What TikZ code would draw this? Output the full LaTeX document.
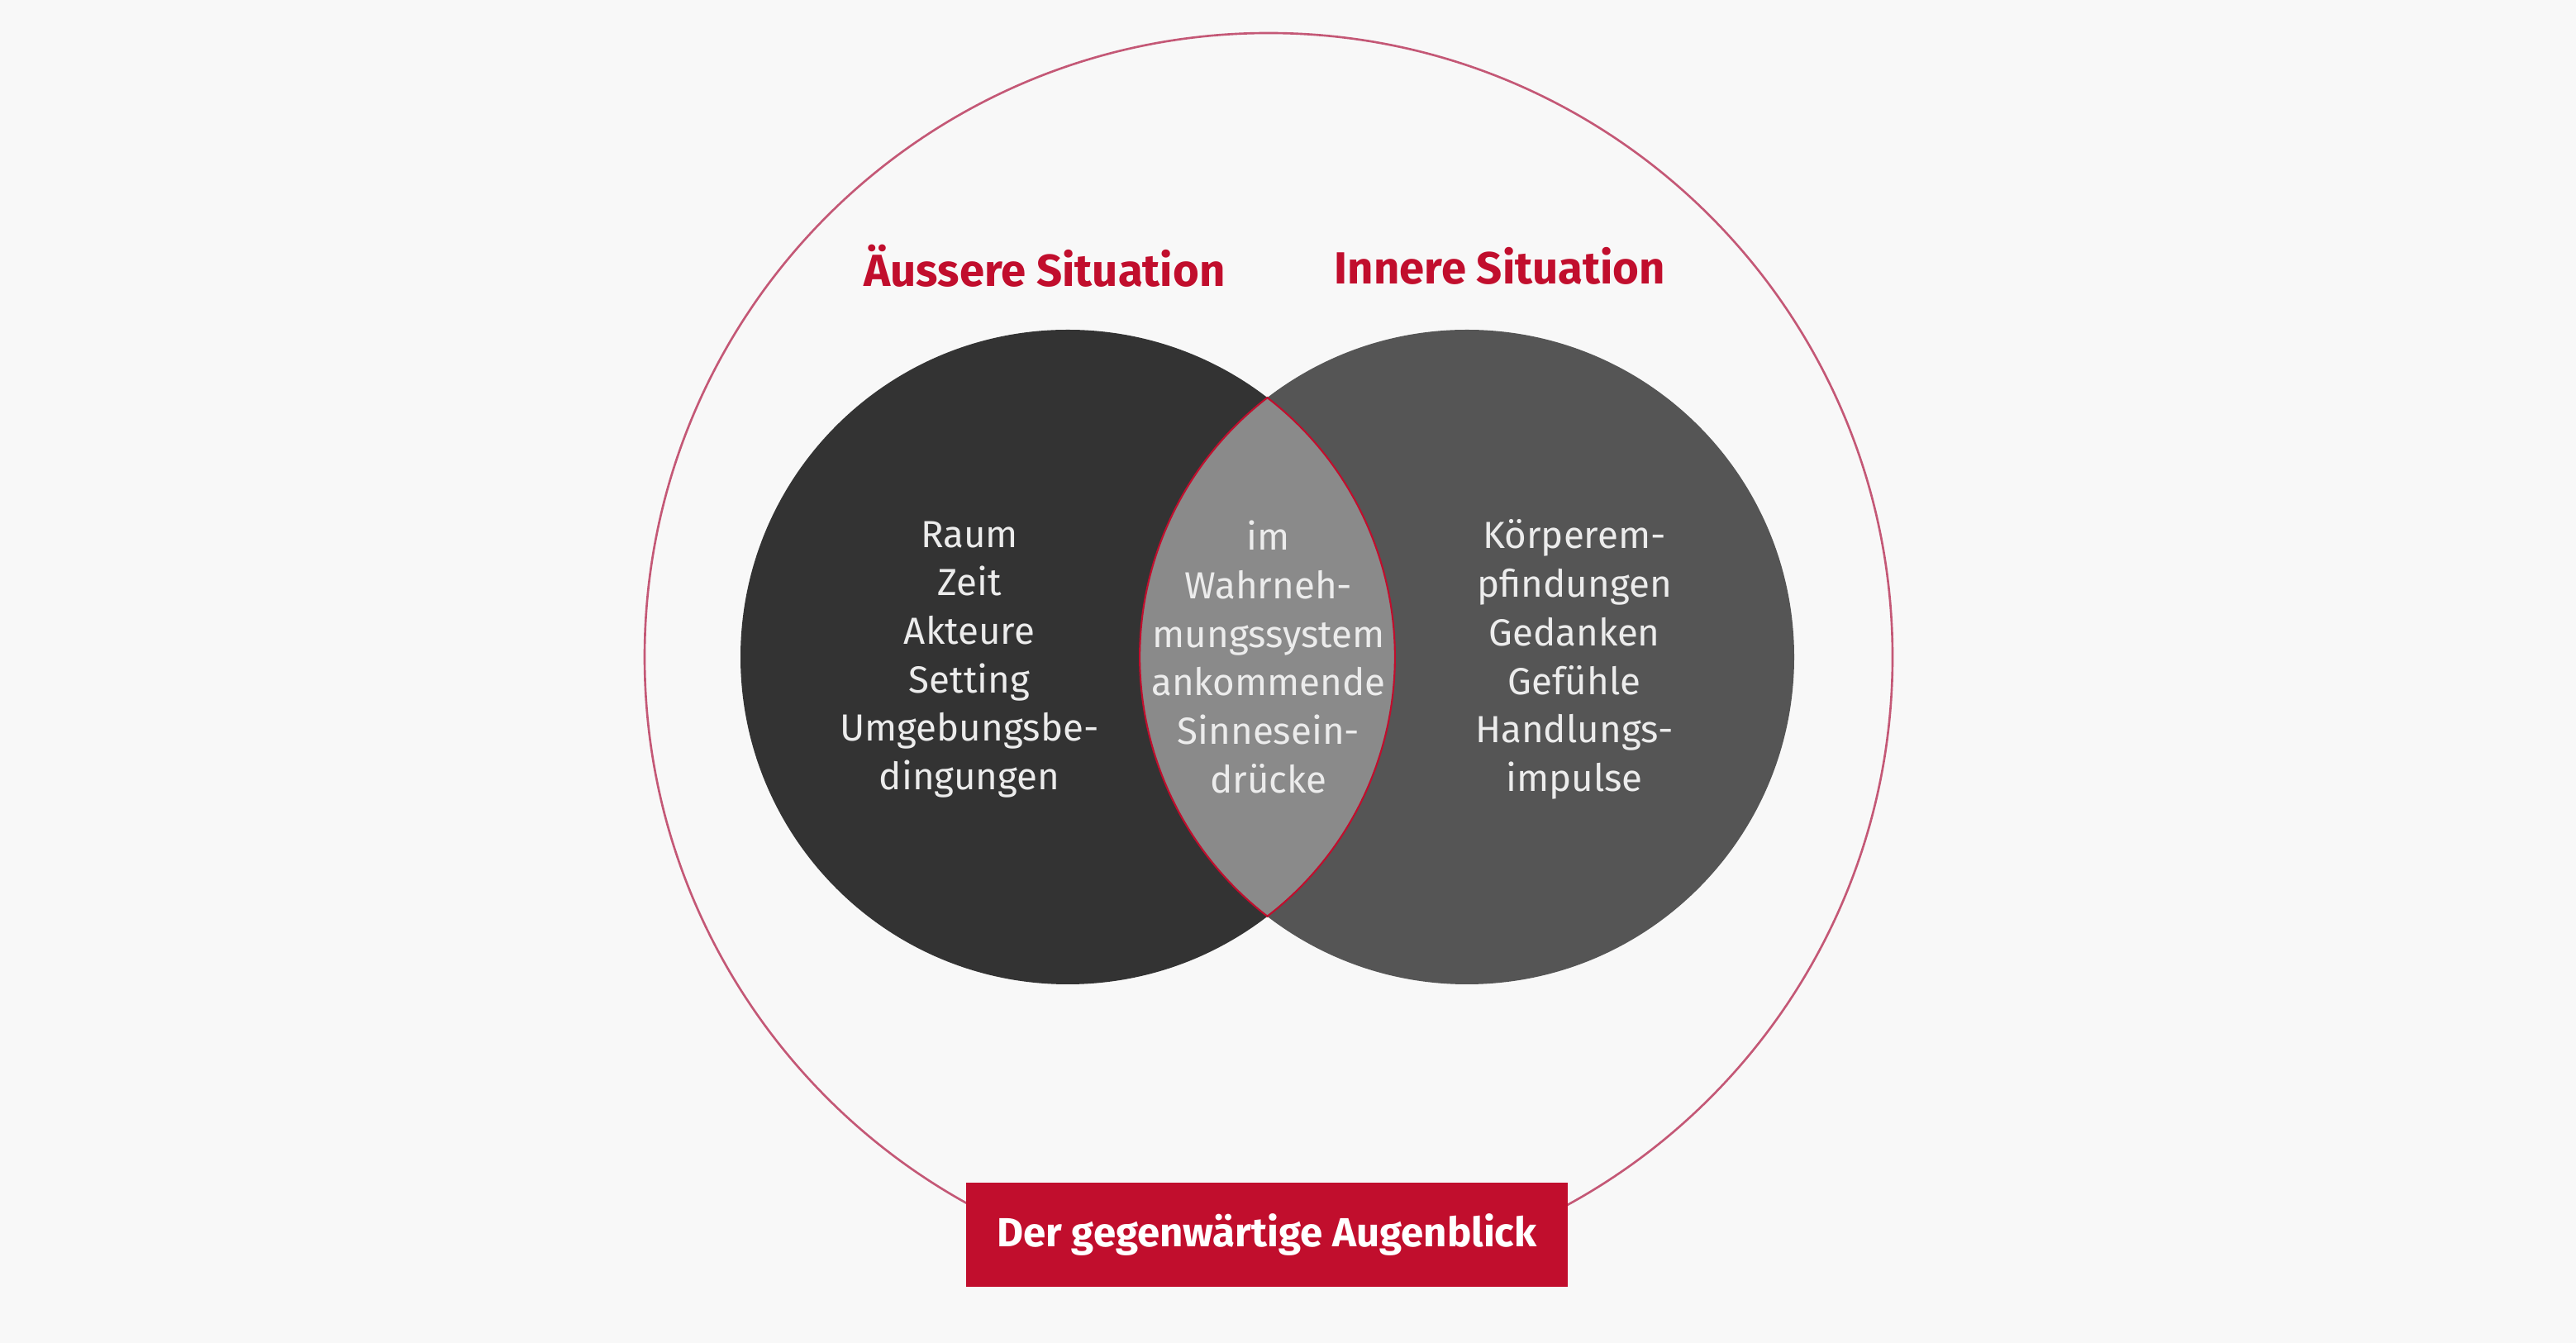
\documentclass[tikz,border=0pt]{standalone}
\usepackage{fontspec}
\setmainfont{Fira Sans}
\usetikzlibrary{positioning}
\definecolor{pagebg}{RGB}{248,248,248}
\definecolor{ringred}{RGB}{196,88,118}
\definecolor{boxred}{RGB}{193,14,45}
\definecolor{outerdark}{RGB}{51,51,51}
\definecolor{innerdark}{RGB}{85,85,85}
\definecolor{lensgray}{RGB}{138,138,138}
\definecolor{textlight}{RGB}{236,236,236}

\begin{document}
\begin{tikzpicture}[
  ball/.style={circle,minimum size=7.92cm,inner sep=0pt},
  body/.style={align=center,text=textlight,font=\fontsize{13}{16.7}\selectfont},
  heading/.style={text=boxred,font=\bfseries\fontsize{15.5}{18}\selectfont},
]
\fill[pagebg] (0,0) rectangle (31.17,16.25);
\useasboundingbox (0,0) rectangle (31.17,16.25);

% moment ring
\node[circle,draw=ringred,line width=0.75pt,minimum size=15.1cm,inner sep=0pt] (moment) at (15.35,8.30) {};

% the two situations
\node[ball,fill=outerdark] (outer) at (12.92,8.30) {};
\node[ball,fill=innerdark] (inner) at (17.75,8.30) {};

% overlap
\fill[lensgray,draw=boxred,line width=0.6pt] (15.335,11.438)
  arc[start angle=52.4,end angle=-52.4,radius=3.96]
  arc[start angle=232.4,end angle=127.6,radius=3.96] -- cycle;

\node[heading] (outerhead) at (12.64,13.03) {Äussere Situation};
\node[heading] (innerhead) at (18.15,13.03) {Innere Situation};

\node[body] (outertext) at (11.73,8.27) {Raum\\Zeit\\Akteure\\Setting\\Umgebungsbe-\\dingungen};
\node[body] (lenstext) at (15.35,8.30) {im\\Wahrneh-\\mungssystem\\ankommende\\Sinnesein-\\drücke};
\node[body] (innertext) at (19.05,8.27) {Körperem-\\pfindungen\\Gedanken\\Gefühle\\Handlungs-\\impulse};

\node[fill=boxred,minimum width=7.28cm,minimum height=1.26cm,text=white,
  font=\bfseries\fontsize{14}{16}\selectfont] (now) at (15.33,1.31) {Der gegenwärtige Augenblick};
\end{tikzpicture}
\end{document}
